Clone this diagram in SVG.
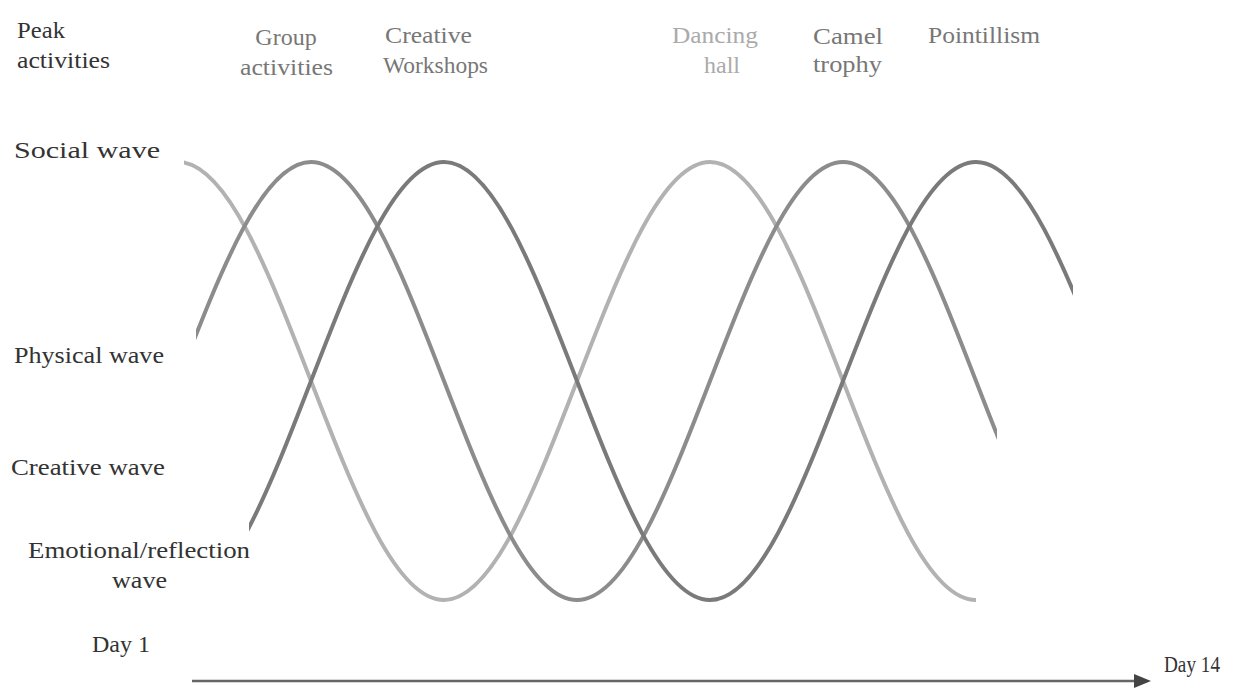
<svg xmlns="http://www.w3.org/2000/svg" width="1234" height="688" viewBox="0 0 1234 688">
<style>
text{font-family:"Liberation Serif","Times New Roman",serif;font-size:24px;fill:#333}
.top{fill:#777}
.light{fill:#aaa}
.wave{fill:none;stroke-width:4;stroke-linecap:butt}
</style>
<defs>
<clipPath id="clipA"><rect x="184" y="100" width="900" height="540"/></clipPath>
<clipPath id="clipB"><rect x="196" y="100" width="801" height="540"/></clipPath>
<clipPath id="clipC"><rect x="249" y="100" width="824" height="540"/></clipPath>
</defs>
<rect width="1234" height="688" fill="#fff"/>

<g id="left-labels">
<text x="17" y="38" textLength="48" lengthAdjust="spacingAndGlyphs">Peak</text>
<text x="17" y="68" textLength="93" lengthAdjust="spacingAndGlyphs">activities</text>
<text x="14" y="158" textLength="146" lengthAdjust="spacingAndGlyphs">Social wave</text>
<text x="14" y="363" textLength="150" lengthAdjust="spacingAndGlyphs">Physical wave</text>
<text x="11" y="475" textLength="154" lengthAdjust="spacingAndGlyphs">Creative wave</text>
<text x="28" y="558" textLength="222" lengthAdjust="spacingAndGlyphs">Emotional/reflection</text>
<text x="112" y="588" textLength="55" lengthAdjust="spacingAndGlyphs">wave</text>
</g>

<g id="peak-labels">
<g id="group-activities">
<text class="top" x="286" y="45" text-anchor="middle">Group</text>
<text class="top" x="240" y="75" textLength="93" lengthAdjust="spacingAndGlyphs">activities</text>
</g>
<g id="creative-workshops">
<text class="top" x="385" y="43" textLength="87" lengthAdjust="spacingAndGlyphs">Creative</text>
<text class="top" x="383" y="73" textLength="105" lengthAdjust="spacingAndGlyphs">Workshops</text>
</g>
<g id="dancing-hall">
<text class="light" x="672" y="43" textLength="86" lengthAdjust="spacingAndGlyphs">Dancing</text>
<text class="light" x="704" y="73" textLength="36" lengthAdjust="spacingAndGlyphs">hall</text>
</g>
<g id="camel-trophy">
<text class="top" x="813" y="44" textLength="70" lengthAdjust="spacingAndGlyphs">Camel</text>
<text class="top" x="813" y="72" textLength="69" lengthAdjust="spacingAndGlyphs">trophy</text>
</g>
<g id="pointillism">
<text class="top" x="928" y="43" textLength="112" lengthAdjust="spacingAndGlyphs">Pointillism</text>
</g>
</g>

<g id="waves">
<path id="wave-a" class="wave" stroke="#b2b2b2" clip-path="url(#clipA)" d="M178,162 C226.1,162 267.6,268.8 311,381 C354.4,493.2 395.9,600 444,600 C492.1,600 533.6,493.2 577,381 C620.4,268.8 661.9,162 710,162 C758.1,162 799.6,268.8 843,381 C886.4,493.2 927.9,600 976,600"/>
<path id="wave-b" class="wave" stroke="#8c8c8c" clip-path="url(#clipB)" d="M178,381 C221.4,268.8 262.9,162 311,162 C359.1,162 400.6,268.8 444,381 C487.4,493.2 528.9,600 577,600 C625.1,600 666.6,493.2 710,381 C753.4,268.8 794.9,162 843,162 C891.1,162 932.6,268.8 976,381 C1019.4,493.2 1060.9,600 1109,600"/>
<path id="wave-c" class="wave" stroke="#7a7a7a" clip-path="url(#clipC)" d="M178,600 C226.1,600 267.6,493.2 311,381 C354.4,268.8 395.9,162 444,162 C492.1,162 533.6,268.8 577,381 C620.4,493.2 661.9,600 710,600 C758.1,600 799.6,493.2 843,381 C886.4,268.8 927.9,162 976,162 C1024.1,162 1065.6,268.8 1109,381"/>
</g>

<g id="timeline">
<text x="92" y="652" font-size="21" textLength="58" lengthAdjust="spacingAndGlyphs">Day 1</text>
<text x="1164" y="672" font-size="21" textLength="56" lengthAdjust="spacingAndGlyphs">Day 14</text>
<line x1="192" y1="681" x2="1137" y2="681" stroke="#666" stroke-width="2.5"/>
<polygon points="1134,674 1151,681 1134,688" fill="#444"/>
</g>
</svg>
